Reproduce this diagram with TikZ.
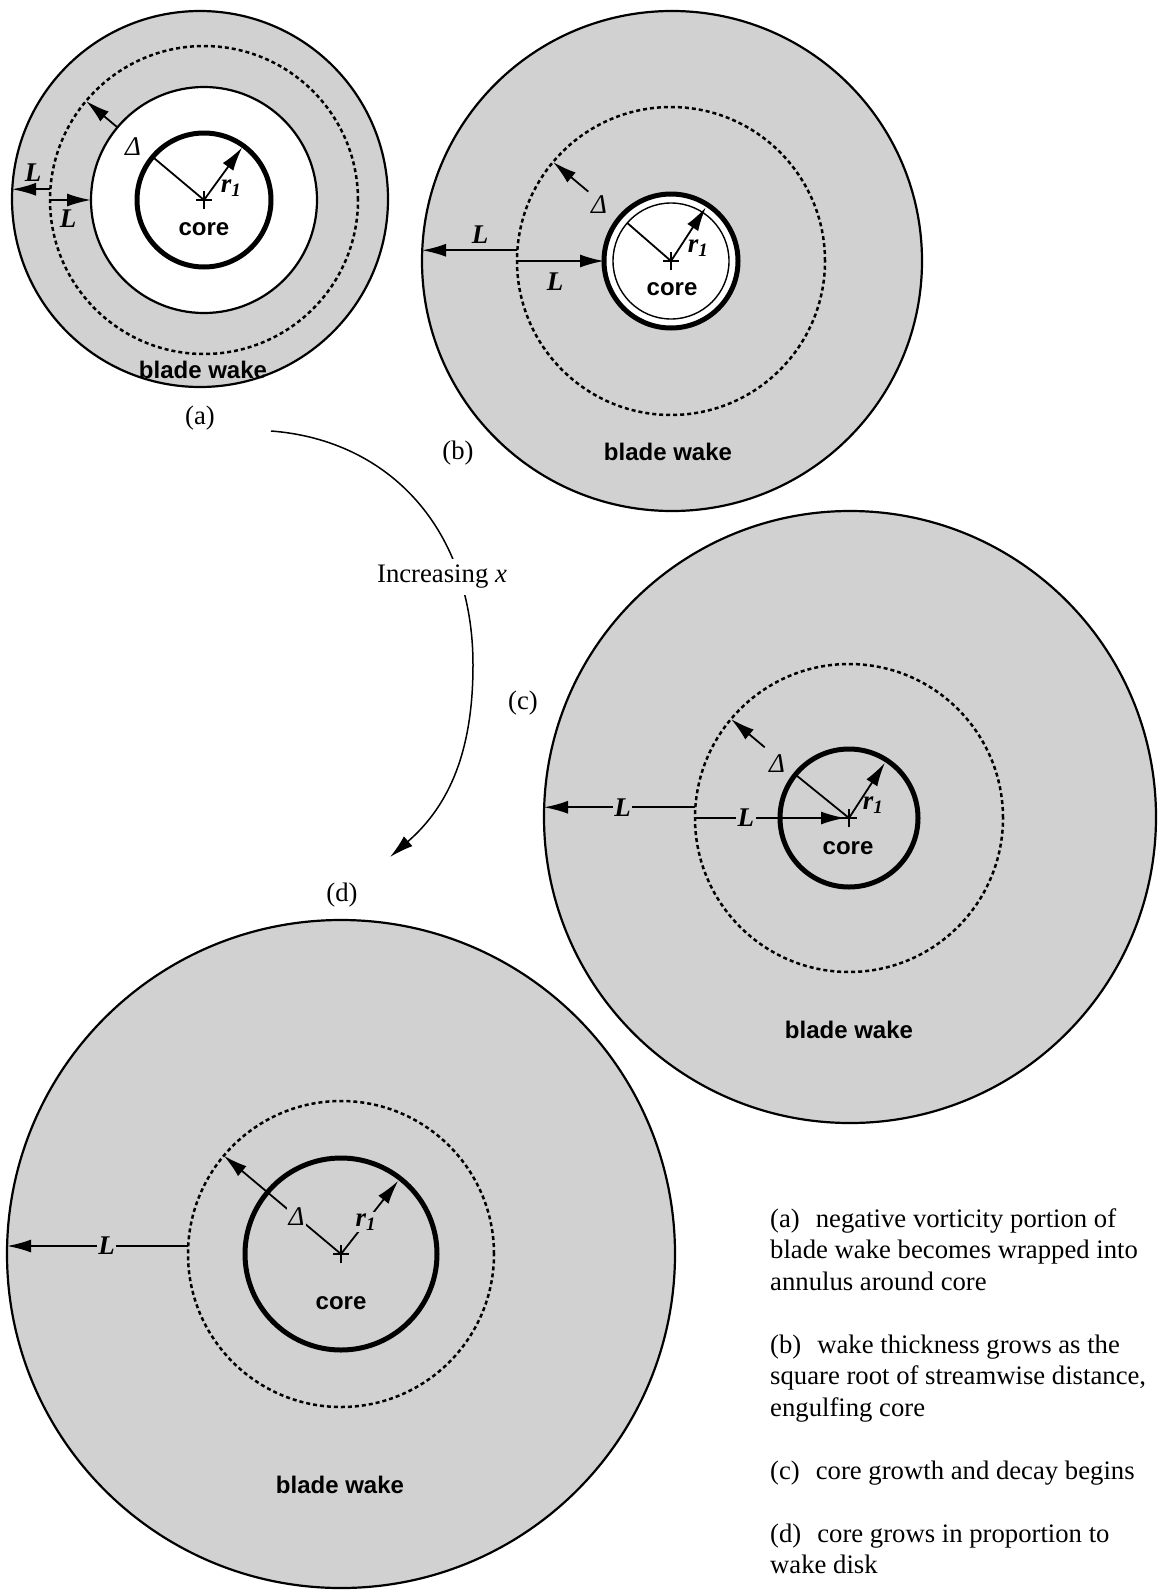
\documentclass[tikz,border=0pt]{standalone}
\usepackage{fontspec}
\setmainfont{Liberation Serif}
\setsansfont{Liberation Sans}
\usepackage{tikz}
\usetikzlibrary{arrows.meta, calc}
\definecolor{wakegray}{gray}{0.82}

\begin{document}
\begin{tikzpicture}[
  x=1pt, y=1pt,
  every node/.style={align=center},
  wakedisk/.style={circle, draw, line width=2.2pt, fill=wakegray, inner sep=0pt, outer sep=0pt},
  clearring/.style={circle, draw, line width=2.2pt, fill=white, inner sep=0pt, outer sep=0pt},
  dashring/.style={circle, draw, line width=2.5pt, dash pattern=on 4pt off 3pt, inner sep=0pt, outer sep=0pt},
  corering/.style={circle, draw, line width=5pt, inner sep=0pt, outer sep=0pt},
  thinring/.style={circle, draw, line width=1.4pt, inner sep=0pt, outer sep=0pt},
  dimline/.style={line width=1.8pt},
  dimarrow/.style={line width=1.8pt, -{Latex[length=24pt,width=13pt]}},
  symlbl/.style={font=\fontsize{27}{31}\selectfont\bfseries\itshape, inner sep=1.5pt},
  wordlbl/.style={font=\fontsize{24}{28}\selectfont\sffamily\bfseries},
  tagtext/.style={font=\fontsize{26.7}{31.5}\selectfont}
]
\useasboundingbox (0,0) rectangle (1163,-1590);

% (a)
\coordinate (Acen) at (204,-200);
\node[wakedisk, minimum size=376] (Aout) at (200,-199) {};
\node[clearring, minimum size=226] (Aann) at (Acen) {};
\node[dashring, minimum size=308] (Adash) at (Acen) {};
\node[corering, minimum size=134] (Acore) at (Acen) {};

\draw[dimarrow] (Adash.176) -- (Adash.176 -| Aout.west);
\draw[dimarrow] (Adash.west) -- (Aann.west);
\draw[dimline] (Acen) -- (Acore.140);
\draw[dimarrow] (Aann.140) -- (Adash.140);
\draw[dimarrow, shorten >=2pt] (Acen) -- (Acore.54);

\node[symlbl] (La1) at (33,-173) {L};
\node[symlbl] (La2) at (68,-219) {L};
\node[symlbl] (Da) at (133,-147) {\mdseries Δ};
\node[symlbl] (Ra) at (231,-188) {r\textsubscript{1}};
\node[wordlbl] (ka) at (204,-229) {core};
\node[wordlbl] (wa) at (203,-370) {blade wake};
\node[tagtext] (ta) at (200,-418) {(a)};

% (b)
\coordinate (Bcen) at (671,-261);
\node[wakedisk, minimum size=500] (Bout) at (672,-261) {};
\node[dashring, minimum size=308] (Bdash) at (Bcen) {};
\node[corering, fill=white, minimum size=134] (Bcore) at (Bcen) {};
\node[thinring, minimum size=116] (Bthin) at (Bcen) {};

\draw[dimarrow] (Bdash.176) -- (Bdash.176 -| Bout.west);
\draw[dimarrow] (Bdash.west) -- (Bcore.west);
\draw[dimline] (Bcen) -- (Bthin.139);
\coordinate (Bd0) at ($(Bcen)+(140:108)$);
\draw[dimarrow] (Bd0) -- (Bdash.140);
\draw[dimarrow, shorten >=3pt] (Bcen) -- (Bcore.57);

\node[symlbl] (Lb1) at (480,-235) {L};
\node[symlbl] (Lb2) at (555,-282) {L};
\node[symlbl] (Db) at (599,-205) {\mdseries Δ};
\node[symlbl] (Rb) at (698,-248) {r\textsubscript{1}};
\node[wordlbl] (kb) at (672,-289) {core};
\node[wordlbl] (wb) at (668,-452) {blade wake};
\node[tagtext] (tb) at (458,-453) {(b)};

% (c)
\coordinate (Ccen) at (849,-818);
\node[wakedisk, minimum size=612] (Cout) at (850,-817) {};
\node[dashring, minimum size=308] (Cdash) at (Ccen) {};
\node[corering, minimum size=138] (Ccore) at (Ccen) {};

\draw[dimarrow] (Cdash.176) -- node[symlbl, fill=wakegray, pos=0.48] (Lc1) {L} (Cdash.176 -| Cout.west);
\draw[dimarrow, shorten >=4pt] (Cdash.west) -- node[symlbl, fill=wakegray, pos=0.33] (Lc2) {L} (Ccen);
\draw[dimline] (Ccen) -- (Ccore.141);
\coordinate (Cd0) at ($(Ccen)+(140:110)$);
\draw[dimarrow] (Cd0) -- (Cdash.140);
\draw[dimarrow, shorten >=3pt] (Ccen) -- (Ccore.57);

\node[symlbl] (Dc) at (777,-764) {\mdseries Δ};
\node[symlbl] (Rc) at (873,-805) {r\textsubscript{1}};
\node[wordlbl] (kc) at (848,-848) {core};
\node[wordlbl] (wc) at (849,-1030) {blade wake};
\node[tagtext] (tc) at (523,-703) {(c)};

% (d)
\coordinate (Dcen) at (341,-1254);
\node[wakedisk, minimum size=668] (Dout) at (Dcen) {};
\node[dashring, minimum size=306] (Ddash) at (Dcen) {};
\node[corering, minimum size=192] (Dcore) at (Dcen) {};

\draw[dimarrow] (Ddash.177) -- node[symlbl, fill=wakegray, pos=0.45] (Ld) {L} (Ddash.177 -| Dout.west);
\draw[dimarrow] (Dcen) -- node[symlbl, fill=wakegray, pos=0.38] (Dd) {\mdseries Δ} (Ddash.140);
\draw[dimarrow, shorten >=3pt] (Dcen) -- node[symlbl, fill=wakegray, pos=0.42] (Rd) {r\textsubscript{1}} (Dcore.52);

\node[wordlbl] (kd) at (341,-1303) {core};
\node[wordlbl] (wd) at (340,-1485) {blade wake};
\node[tagtext] (td) at (342,-895) {(d)};

% centre marks
\foreach \c in {Acen,Bcen,Ccen,Dcen}
  \draw[line width=1.5pt] (\c) +(-8,0) -- +(8,0) +(0,-9) -- +(0,9);

% growth arrow
\coordinate (xs) at (271,-431);
\coordinate (xe) at (390,-857);
\draw[line width=1.5pt, -{Latex[length=24pt,width=13pt]}] (xs) .. controls (390,-440) and (473,-530) .. (473,-665) .. controls (473,-750) and (450,-805) .. (xe);
\node[tagtext, fill=white, inner sep=6pt] (incx) at (442,-577) {Increasing \textit{x}};

% caption
\node[tagtext, align=left, anchor=north west, inner sep=0pt] (cap) at (770,-1208) {(a)\hspace{0.6em}negative vorticity portion of\\ blade wake becomes wrapped into\\ annulus around core\\[31.5pt] (b)\hspace{0.6em}wake thickness grows as the\\ square root of streamwise distance,\\ engulfing core\\[31.5pt] (c)\hspace{0.6em}core growth and decay begins\\[31.5pt] (d)\hspace{0.6em}core grows in proportion to\\ wake disk};
\end{tikzpicture}
\end{document}
